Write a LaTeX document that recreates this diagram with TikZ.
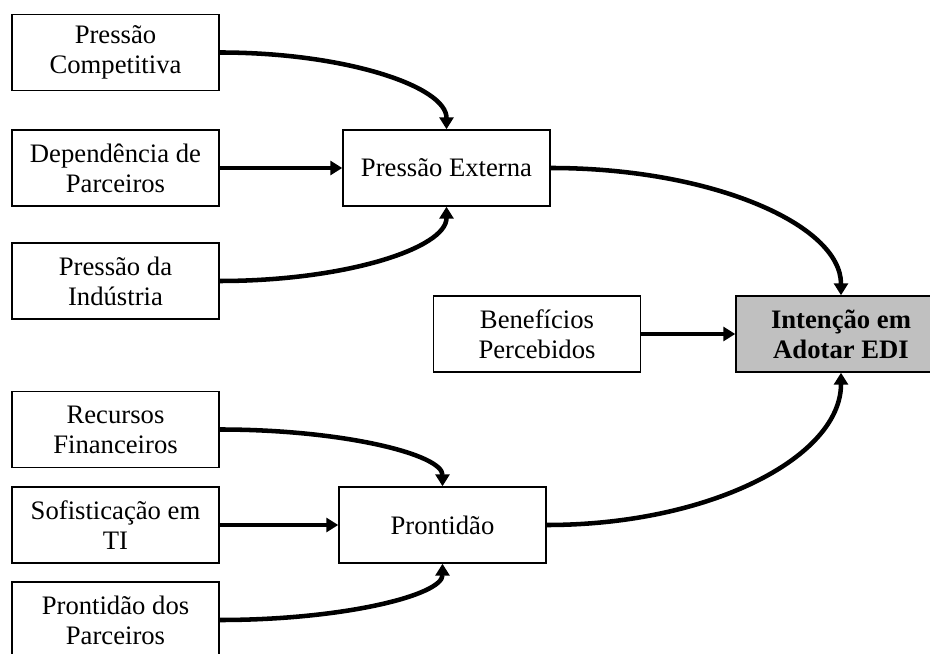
\documentclass[tikz,border=0pt]{standalone}
\usepackage{fontspec}
\setmainfont{Liberation Serif}
\usetikzlibrary{arrows.meta}
\definecolor{boxgray}{RGB}{192,192,192}
\tikzset{
  box/.style={draw=black, line width=1.1pt, fill=white, inner sep=0pt,
    minimum width=155.25pt, minimum height=57pt, align=center,
    font=\fontsize{20}{22.5}\selectfont},
  mainbox/.style={box, fill=boxgray, minimum width=157.5pt,
    font=\fontsize{20}{22.5}\selectfont\bfseries},
  conn/.style={line width=3.4pt, -{Triangle[length=9pt,width=10.5pt]}}
}
\begin{document}
\begin{tikzpicture}[x=0.75pt,y=0.75pt]
\clip (0,0) rectangle (930,653);
\fill[white] (0,0) rectangle (930,653);
% left column
\node[box] (comp) at (115.5,600.5) {Pressão\\Competitiva};
\node[box] (dep)  at (115.5,485) {Dependência de\\Parceiros};
\node[box] (ind)  at (115.5,372) {Pressão da\\Indústria};
\node[box] (rec)  at (115.5,223.5) {Recursos\\Financeiros};
\node[box] (sof)  at (115.5,128) {Sofisticação em\\TI};
\node[box] (par)  at (115.5,33) {Prontidão dos\\Parceiros};
% middle
\node[box] (pe) at (446.5,485) {Pressão Externa};
\node[box] (pr) at (442.5,128) {Prontidão};
\node[box] (ben) at (537,319) {Benefícios\\Percebidos};
% target
\node[mainbox] (int) at (841,319) {Intenção em\\Adotar EDI};
% connectors
\draw[conn] (comp.east) .. controls +(125.6,0) and +(0,42.8) .. (pe.north);
\draw[conn] (dep.east) -- (pe.west);
\draw[conn] (ind.east) .. controls +(125.6,0) and +(0,-41.4) .. (pe.south);
\draw[conn] (rec.east) .. controls +(123.4,0) and +(0,31.8) .. (pr.north);
\draw[conn] (sof.east) -- (pr.west);
\draw[conn] (par.east) .. controls +(123.4,0) and +(0,-31.5) .. (pr.south);
\draw[conn] (pe.east) .. controls +(160.7,0) and +(0,70.7) .. (int.north);
\draw[conn] (ben.east) -- (int.west);
\draw[conn] (pr.east) .. controls +(163,0) and +(0,-84.5) .. (int.south);
\end{tikzpicture}
\end{document}
